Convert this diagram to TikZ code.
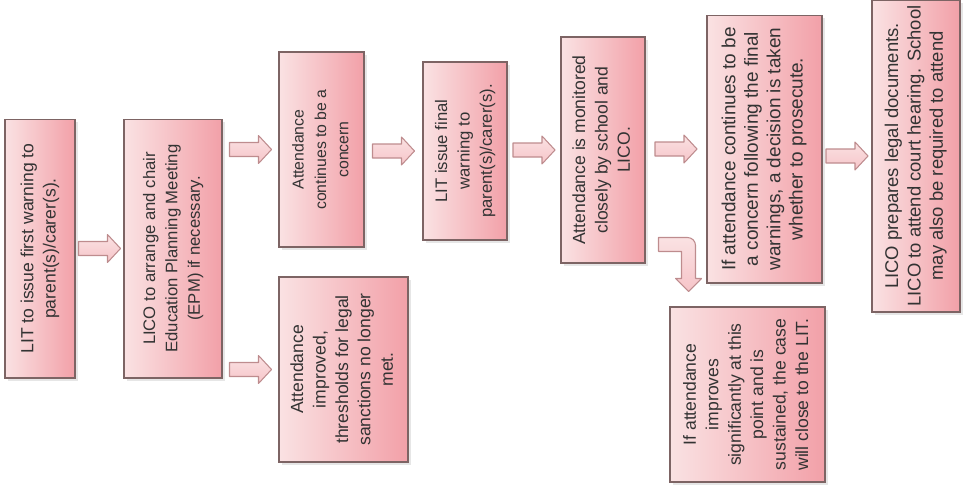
\documentclass[tikz,border=0pt]{standalone}
\usepackage{fontspec}
\setmainfont{Liberation Sans}
\usepackage{graphicx}
\usetikzlibrary{calc,shadows}
\definecolor{boxlight}{RGB}{250,226,227}
\definecolor{boxdark}{RGB}{242,160,168}
\definecolor{boxedge}{RGB}{125,100,100}
\definecolor{arrowfill}{RGB}{246,196,200}
\definecolor{arrowedge}{RGB}{190,140,142}
\colorlet{inktext}{black!80}
\newcommand{\vtext}[1]{\rotatebox{90}{\begin{tabular}{@{}c@{}}#1\end{tabular}}}
\newcommand{\flowarrow}[2]{%
  \draw[arrowbox] ($(#1.east |- #2.west)!0.5!(#2.west)+(21,0)$) -- ++(-13,-14) -- ++(0,7)
    -- ++(-29,0) -- ++(0,14) -- ++(29,0) -- ++(0,7) -- cycle;}
\tikzset{
  flowbox/.style={draw=boxedge,line width=0.6pt,left color=boxlight,right color=boxdark,
    inner sep=0pt,text=inktext,fsize=10,
    drop shadow={opacity=0.2,shadow xshift=1.5pt,shadow yshift=-1.5pt}},
  fsize/.style={font=\fontsize{#1}{12.8}\selectfont},
  boxsize/.style 2 args={minimum width=#1,minimum height=#2},
  arrowbox/.style={draw=arrowedge,line width=0.6pt,top color=boxlight,bottom color=arrowfill,line join=round}
}

\begin{document}
\begin{tikzpicture}[x=0.02cm,y=-0.02cm]
\useasboundingbox (0,0) rectangle (967,484);
% boxes
\node[flowbox,fsize=10,boxsize={1.40cm}{5.18cm}] (warn) at (40,248.5) {\vtext{LIT to issue first warning to\\parent(s)/carer(s).}};
\node[flowbox,fsize=9.5,boxsize={1.96cm}{5.18cm}] (epm) at (173,248.5) {\vtext{LICO to arrange and chair\\Education Planning Meeting\\(EPM) if necessary.}};
\node[flowbox,fsize=9,boxsize={1.70cm}{3.90cm}] (concern) at (321.5,149.5) {\vtext{Attendance\\continues to be a\\concern}};
\node[flowbox,fsize=10,boxsize={2.58cm}{3.70cm}] (improved) at (343.5,369.5) {\vtext{Attendance\\improved,\\thresholds for legal\\sanctions no longer\\met.}};
\node[flowbox,fsize=9.5,boxsize={1.68cm}{3.56cm}] (final) at (465,151) {\vtext{LIT issue final\\warning to\\parent(s)/carer(s).}};
\node[flowbox,fsize=10,boxsize={1.68cm}{4.52cm}] (monitor) at (603,150) {\vtext{Attendance is monitored\\closely by school and\\LICO.}};
\node[flowbox,fsize=10.8,boxsize={2.30cm}{5.36cm}] (decide) at (764.5,149) {\vtext{If attendance continues to be\\a concern following the final\\warnings, a decision is taken\\whether to prosecute.}};
\node[flowbox,fsize=10.5,boxsize={1.76cm}{6.24cm}] (court) at (916,156) {\vtext{LICO prepares legal documents.\\LICO to attend court hearing. School\\may also be required to attend}};
\node[flowbox,fsize=10,boxsize={3.10cm}{3.50cm}] (close) at (747.5,394.5) {\vtext{If attendance\\improves\\significantly at this\\point and is\\sustained, the case\\will close to the LIT.}};
% arrows
\flowarrow{warn}{epm}
\flowarrow{epm}{concern}
\flowarrow{epm}{improved}
\flowarrow{concern}{final}
\flowarrow{final}{monitor}
\flowarrow{monitor}{decide}
\flowarrow{decide}{court}
\draw[arrowbox] ($(monitor.east |- close.north)+(43,-15)$) -- ++(13,-13) -- ++(-6,0) -- ++(0,-33)
  arc[start angle=0,end angle=-90,radius=8] -- ++(-29,0) -- ++(0,14) -- ++(23,0) -- ++(0,27) -- ++(-6,0) -- cycle;
\end{tikzpicture}
\end{document}
